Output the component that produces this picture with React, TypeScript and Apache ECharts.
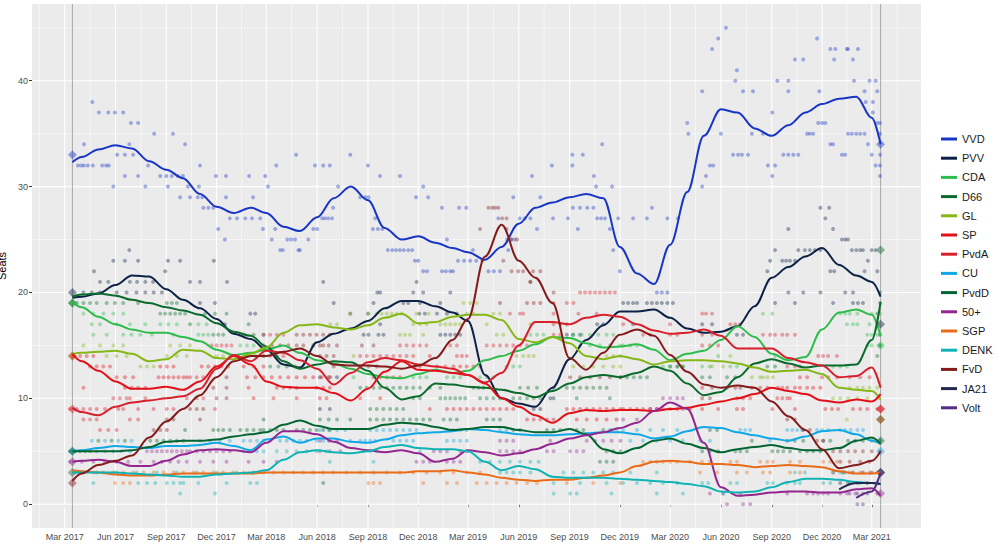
import React, { useEffect, useRef } from "react";
import * as echarts from "echarts";

// ---------- data ----------
const parties = ["VVD", "PVV", "CDA", "D66", "GL", "SP", "PvdA", "CU", "PvdD", "50+", "SGP", "DENK", "FvD", "JA21", "Volt"];
const partyColors = ["#1836c6", "#0e2246", "#2ebd4c", "#0b6b2c", "#85b816", "#e31018", "#d81f2c", "#10a8e6", "#036632", "#93278f", "#ea6b18", "#10b3b3", "#841a1a", "#23294f", "#582c83"];

const election2017 = "2017-03-15";
const election2021 = "2021-03-17";
const result2017 = [33, 20, 19, 19, 14, 14, 9, 5, 5, 4, 3, 3, 2, null, null];
const result2021 = [34, 17, 15, 24, 8, 9, 9, 5, 6, 1, 3, 3, 8, 3, 3];

const tickMonths = ["2017-03-01", "2017-06-01", "2017-09-01", "2017-12-01", "2018-03-01", "2018-06-01", "2018-09-01", "2018-12-01", "2019-03-01", "2019-06-01", "2019-09-01", "2019-12-01", "2020-03-01", "2020-06-01", "2020-09-01", "2020-12-01", "2021-03-01"];
const seatTicks = [0, 10, 20, 30, 40];
const seatMinor = [5, 15, 25, 35, 45];

// dates of the smoothed trend values
const lineDates = [
  "2017-03-15", "2017-04-01", "2017-05-01", "2017-06-01", "2017-07-01", "2017-08-01", "2017-09-01", "2017-10-01", "2017-11-01", "2017-12-01",
  "2018-01-01", "2018-02-01", "2018-03-01", "2018-04-01", "2018-05-01", "2018-06-01", "2018-07-01", "2018-08-01", "2018-09-01", "2018-10-01", "2018-11-01", "2018-12-01",
  "2019-01-01", "2019-02-01", "2019-03-01", "2019-04-01", "2019-05-01", "2019-06-01", "2019-07-01", "2019-08-01", "2019-09-01", "2019-10-01", "2019-11-01", "2019-12-01",
  "2020-01-01", "2020-02-01", "2020-03-01", "2020-04-01", "2020-05-01", "2020-06-01", "2020-07-01", "2020-08-01", "2020-09-01", "2020-10-01", "2020-11-01", "2020-12-01",
  "2021-01-01", "2021-02-01", "2021-03-01", "2021-03-17",
];

const trendVVD = [32.3, 32.8, 33.5, 33.9, 33.6, 32.4, 31.6, 30.8, 29.3, 28.1, 27.5, 28.0, 27.5, 26.2, 25.8, 27.1, 28.9, 30.0, 28.7, 26.1, 25.0, 25.3, 24.7, 24.2, 23.8, 23.1, 24.3, 26.5, 28.0, 28.5, 29.0, 29.3, 28.9, 24.3, 21.8, 20.8, 24.5, 29.5, 34.8, 37.3, 37.0, 35.5, 34.8, 35.8, 37.0, 37.8, 38.3, 38.5, 36.5, 34.0];
const trendPVV = [19.5, 19.6, 19.9, 20.7, 21.6, 21.5, 20.3, 19.3, 18.5, 17.5, 16.1, 15.6, 14.6, 13.2, 12.9, 15.3, 16.1, 16.6, 17.3, 18.5, 19.2, 19.2, 18.7, 18.1, 17.3, 12.2, 10.0, 9.5, 9.2, 11.0, 13.7, 15.5, 16.9, 18.2, 18.2, 18.4, 17.6, 16.6, 16.2, 16.3, 16.8, 18.7, 21.4, 22.4, 23.4, 24.2, 22.6, 21.6, 21.0, 19.6];
const trendCDA = [19.1, 18.6, 17.7, 17.0, 16.5, 16.2, 16.2, 15.8, 15.4, 14.6, 14.1, 14.3, 14.6, 15.0, 14.3, 13.6, 13.3, 12.8, 12.3, 12.0, 11.9, 12.3, 12.7, 12.4, 12.6, 13.6, 14.0, 14.5, 15.1, 15.8, 15.7, 15.2, 14.8, 14.9, 15.1, 14.6, 13.6, 14.2, 14.5, 15.5, 16.8, 15.8, 14.2, 13.6, 13.9, 16.5, 18.1, 18.4, 17.9, 15.9];
const trendD66 = [19.6, 19.8, 19.9, 19.7, 19.3, 19.0, 18.6, 18.3, 17.9, 17.1, 16.3, 15.9, 14.9, 13.5, 12.8, 13.2, 13.5, 13.4, 12.6, 11.0, 9.9, 10.2, 11.4, 11.3, 11.1, 11.0, 10.8, 10.5, 10.1, 10.7, 11.4, 12.0, 12.2, 12.0, 12.4, 13.0, 12.6, 11.4, 10.3, 10.6, 12.0, 13.3, 13.7, 13.3, 12.9, 13.1, 13.1, 13.2, 15.5, 19.1];
const trendGL = [14.2, 14.3, 14.4, 14.5, 14.2, 13.5, 13.7, 14.6, 14.5, 13.8, 13.7, 14.2, 14.8, 16.2, 16.9, 17.0, 16.7, 16.5, 16.9, 17.6, 18.0, 17.1, 17.2, 17.7, 17.9, 17.9, 17.4, 15.6, 15.3, 15.8, 15.2, 14.0, 13.7, 14.0, 13.7, 13.2, 13.5, 13.6, 13.6, 13.5, 13.3, 12.9, 12.5, 12.6, 12.7, 12.3, 11.0, 10.8, 10.7, 9.9];
const trendSP = [14.2, 13.5, 12.6, 11.6, 10.9, 10.9, 11.1, 10.8, 11.6, 13.0, 14.0, 13.2, 11.6, 11.1, 11.0, 11.0, 10.5, 9.8, 10.9, 12.5, 13.5, 12.7, 12.6, 12.4, 12.2, 11.4, 10.0, 9.2, 8.4, 7.7, 8.6, 8.9, 8.8, 8.9, 8.9, 8.8, 9.0, 9.1, 9.4, 9.7, 10.0, 10.4, 11.0, 10.7, 10.4, 9.8, 9.6, 9.9, 9.7, 10.4];
const trendPvdA = [9.1, 8.7, 8.4, 9.2, 9.6, 9.8, 10.0, 10.2, 10.9, 12.8, 14.1, 13.5, 14.5, 14.3, 13.6, 12.8, 11.3, 12.4, 13.4, 13.8, 13.6, 13.2, 13.0, 12.8, 12.2, 11.5, 12.4, 15.0, 17.2, 17.2, 17.0, 17.6, 17.9, 17.7, 17.0, 16.4, 16.1, 16.2, 16.5, 15.9, 14.7, 14.7, 14.7, 13.8, 13.4, 13.1, 12.0, 12.1, 12.9, 11.0];
const trendCU = [5.0, 5.1, 5.3, 5.5, 5.4, 5.3, 5.5, 5.5, 5.6, 5.8, 5.5, 5.1, 6.1, 6.4, 5.8, 6.2, 6.2, 5.9, 5.8, 6.1, 6.5, 6.7, 6.8, 6.9, 7.1, 7.0, 6.8, 6.6, 6.5, 6.5, 6.6, 6.7, 6.8, 6.8, 6.6, 6.2, 6.4, 6.9, 7.3, 7.2, 6.8, 6.5, 6.2, 6.0, 6.4, 6.9, 7.0, 6.6, 6.0, 5.7];
const trendPvdD = [5.0, 5.0, 5.0, 5.0, 5.1, 5.4, 5.9, 6.0, 6.0, 6.1, 6.4, 6.6, 6.8, 7.5, 7.9, 7.4, 7.1, 7.1, 7.1, 7.5, 7.7, 7.6, 7.3, 7.0, 7.1, 7.3, 7.3, 7.0, 6.8, 6.8, 7.1, 6.6, 5.2, 4.8, 5.3, 6.0, 6.2, 5.7, 5.3, 4.9, 5.2, 5.4, 5.6, 5.3, 5.1, 5.1, 5.3, 6.0, 6.3, 5.7];
const trend50plus = [4.0, 4.1, 4.2, 4.0, 3.6, 3.6, 4.1, 4.7, 5.1, 5.2, 5.1, 4.9, 5.8, 6.9, 6.9, 6.6, 5.9, 5.3, 5.1, 4.9, 5.1, 4.8, 4.0, 4.3, 5.1, 4.9, 4.6, 4.8, 5.2, 5.7, 6.2, 6.5, 6.8, 7.2, 7.7, 8.8, 9.6, 9.0, 5.8, 1.6, 0.8, 0.9, 1.1, 1.2, 1.2, 1.1, 1.1, 1.4, 1.5, 0.8];
const trendSGP = [3.2, 3.1, 3.0, 2.8, 2.7, 2.7, 2.8, 2.9, 2.9, 2.9, 2.9, 2.9, 3.0, 3.0, 3.0, 3.0, 3.0, 3.0, 3.0, 3.0, 3.0, 3.1, 3.1, 3.2, 3.0, 2.8, 2.5, 2.3, 2.2, 2.3, 2.3, 2.5, 2.7, 3.0, 3.6, 4.0, 4.1, 4.0, 3.8, 3.8, 3.7, 3.5, 3.6, 3.7, 3.6, 3.5, 3.1, 2.9, 2.9, 3.0];
const trendDENK = [3.0, 3.0, 3.0, 3.0, 2.9, 2.8, 2.7, 2.6, 2.6, 2.8, 2.9, 3.0, 3.2, 4.2, 4.9, 5.1, 4.9, 4.8, 5.0, 5.4, 5.6, 5.3, 5.2, 5.2, 5.0, 4.0, 3.2, 3.6, 3.3, 2.6, 2.5, 2.5, 2.5, 2.4, 2.3, 2.2, 2.1, 1.9, 1.7, 1.2, 1.1, 1.2, 1.6, 2.1, 2.4, 2.4, 2.3, 2.1, 2.0, 1.9];
const trendFvD = [2.2, 2.9, 3.7, 4.1, 4.6, 6.3, 7.8, 9.0, 10.3, 12.0, 13.5, 14.0, 14.0, 14.4, 14.7, 14.0, 13.2, 13.1, 13.1, 13.0, 12.8, 13.1, 13.8, 15.5, 17.5, 23.4, 26.4, 23.0, 21.4, 19.0, 13.8, 12.7, 14.3, 16.0, 16.5, 15.9, 14.1, 12.5, 11.3, 11.0, 11.2, 11.0, 9.7, 8.3, 7.0, 5.2, 3.4, 3.7, 4.1, 5.0];
const trendJA21 = [null, null, null, null, null, null, null, null, null, null, null, null, null, null, null, null, null, null, null, null, null, null, null, null, null, null, null, null, null, null, null, null, null, null, null, null, null, null, null, null, null, null, null, null, null, null, 1.4, 2.0, 2.0, 1.9];
const trendVolt = [null, null, null, null, null, null, null, null, null, null, null, null, null, null, null, null, null, null, null, null, null, null, null, null, null, null, null, null, null, null, null, null, null, null, null, null, null, null, null, null, null, null, null, null, null, null, null, 0.6, 1.2, 3.0];
const trends = [trendVVD, trendPVV, trendCDA, trendD66, trendGL, trendSP, trendPvdA, trendCU, trendPvdD, trend50plus, trendSGP, trendDENK, trendFvD, trendJA21, trendVolt];

// individual polls: [day since 2017-01-01, seats]
const pollEpoch = "2017-01-01";
const pollsVVD = [
  [83, 32], [89, 32], [94, 32], [101, 32], [110, 32], [109, 38], [121, 37], [138, 37], [150, 37], [165, 37], [179, 36], [192, 36], [221, 35], [255, 35],
  [94, 34], [176, 34], [277, 34], [154, 33], [168, 33], [183, 33], [478, 33], [127, 32], [134, 32], [139, 32], [210, 32], [304, 32], [442, 32],
  [168, 31], [192, 31], [232, 31], [243, 31], [253, 31], [264, 31], [273, 31], [333, 31], [351, 31], [393, 31], [422, 31],
  [147, 30], [205, 30], [246, 30], [282, 30], [302, 30], [427, 30], [268, 29], [286, 29], [300, 29], [308, 29], [351, 29], [400, 29],
  [310, 28], [319, 28], [328, 28], [358, 27], [371, 27], [386, 27], [398, 27], [413, 27], [337, 26], [349, 25], [418, 26], [440, 26],
  [434, 25], [462, 25], [469, 25], [476, 25], [449, 24], [454, 24], [482, 24],
  [512, 32], [527, 32], [539, 32], [576, 33], [608, 32], [630, 31], [666, 31], [554, 30], [708, 30], [594, 29], [603, 29], [609, 29], [545, 28],
  [525, 27], [530, 27], [536, 27], [543, 27], [509, 26], [516, 26], [500, 25], [485, 24], [617, 26], [626, 26], [634, 26], [621, 27],
  [644, 24], [652, 24], [659, 24], [666, 24], [673, 24], [681, 24], [688, 24], [693, 23], [699, 23], [695, 29], [717, 29], [708, 22], [715, 22],
  [742, 28], [773, 28], [786, 28], [751, 25], [742, 22], [749, 22], [757, 22], [762, 22], [771, 23], [782, 23], [793, 23], [804, 23], [815, 23],
  [798, 24], [826, 22], [836, 22], [847, 22], [844, 27], [871, 29], [862, 24], [860, 25], [867, 25], [874, 25], [883, 27], [892, 27], [902, 27],
  [905, 31], [920, 29], [914, 26], [941, 32], [943, 27], [970, 27], [978, 33], [978, 32], [997, 33], [988, 26], [979, 28], [992, 28], [1005, 28],
  [1016, 28], [1032, 34], [1017, 31], [1021, 30], [1050, 30], [1023, 27], [1030, 27], [1037, 27], [1061, 27], [1046, 26], [1052, 24], [1064, 22],
  [1088, 27], [1113, 27], [1122, 28], [1150, 27], [1169, 27], [1131, 20], [1140, 20], [1150, 20],
  [1186, 36], [1188, 35], [1213, 39], [1213, 30], [1220, 31], [1227, 32], [1233, 32], [1231, 43], [1242, 44], [1256, 45], [1247, 35], [1273, 40],
  [1276, 41], [1269, 33], [1278, 33], [1285, 33], [1296, 33], [1287, 39], [1305, 39], [1303, 35], [1323, 35], [1332, 32], [1345, 32], [1340, 31],
  [1340, 37], [1349, 40], [1360, 33], [1369, 33], [1378, 33], [1387, 33], [1369, 40], [1369, 39], [1381, 42], [1396, 42], [1403, 35], [1408, 35],
  [1414, 35], [1421, 44], [1425, 39], [1423, 36], [1430, 36], [1436, 36], [1445, 43], [1454, 43], [1452, 42], [1445, 34], [1450, 34], [1466, 33],
  [1472, 33], [1475, 43], [1477, 43], [1486, 42], [1495, 43], [1477, 35], [1484, 35], [1492, 35], [1499, 35], [1507, 35], [1488, 40], [1507, 39],
  [1509, 38], [1516, 40], [1513, 34], [1522, 38], [1522, 37], [1527, 40], [1530, 39], [1530, 36], [1535, 36], [1520, 33], [1527, 32], [1535, 35],
  [1535, 33], [1535, 32], [1535, 31],
];
const pollsPVV = [
  [112, 22], [241, 22], [123, 21], [138, 21], [177, 21], [190, 21], [205, 21], [219, 21], [286, 21], [304, 21], [353, 21], [147, 23], [168, 23],
  [192, 23], [246, 23], [268, 23], [329, 23], [176, 24], [93, 20], [108, 20], [123, 20], [153, 20], [171, 20], [189, 20], [205, 20], [220, 20],
  [235, 20], [304, 19], [331, 19], [395, 18], [404, 18], [349, 17], [696, 21], [757, 20], [546, 19], [618, 19], [672, 19], [681, 19], [702, 19],
  [739, 19], [630, 17], [600, 16], [609, 16], [627, 16], [636, 16], [739, 16], [748, 16], [757, 16], [766, 16], [775, 16], [521, 12], [537, 12],
  [552, 12], [938, 10], [944, 10], [908, 9], [920, 9], [521, 9], [539, 9],
  [527, 21], [625, 20], [630, 20], [690, 20], [708, 20], [576, 18], [608, 18], [701, 18], [711, 18], [733, 18], [751, 18], [769, 18],
  [1070, 19], [1079, 19], [1088, 19], [1095, 19], [1113, 19], [1122, 19], [1131, 19], [1140, 19], [1150, 19], [1160, 19], [1023, 17], [1034, 17],
  [1088, 17], [968, 16], [979, 16], [992, 16], [1276, 16], [1287, 16], [1213, 17], [1231, 17],
  [1427, 28], [1443, 28], [1436, 27], [1369, 26], [1450, 26], [1466, 25], [1472, 25], [1477, 25], [1345, 24], [1387, 24], [1399, 24], [1408, 24],
  [1417, 24], [1427, 24], [1484, 24], [1492, 24], [1499, 24], [1504, 24], [1520, 24], [1527, 24], [1336, 23], [1358, 23], [1365, 23], [1372, 23],
  [1381, 23], [1513, 23], [1331, 22], [1445, 22], [1452, 22], [1507, 22], [1530, 22], [1369, 20], [1396, 20], [1427, 20], [1472, 20], [1486, 20],
  [1345, 19], [1381, 19], [1450, 19], [1486, 19], [1495, 19], [1504, 19],
];
const pollsCDA = [
  [93, 18], [111, 18], [129, 18], [147, 18], [165, 18], [108, 17], [123, 17], [153, 17], [177, 17], [205, 17], [232, 17], [247, 17], [262, 17],
  [301, 17], [316, 17], [111, 16], [135, 16], [165, 16], [180, 16], [196, 16], [217, 16], [256, 16], [301, 16], [310, 16], [319, 16], [377, 15],
  [389, 15], [401, 15], [413, 15], [389, 14], [404, 14], [419, 14], [582, 12], [690, 12], [702, 12], [714, 12], [751, 12], [763, 12], [775, 12],
  [811, 12], [823, 12], [835, 12], [859, 13], [871, 13], [883, 13], [902, 16], [914, 16], [926, 16], [980, 16], [995, 16], [1010, 16], [1025, 16],
  [1040, 16], [1052, 16], [992, 15], [1010, 15], [1028, 15], [1046, 15], [1065, 15], [1070, 15], [1083, 15], [1095, 15], [1142, 13], [1155, 13],
  [1168, 13], [1178, 13], [1213, 13], [1227, 13], [1264, 13], [1276, 13], [1242, 14], [1345, 14], [1323, 18], [1340, 18], [1463, 18], [1472, 18],
  [1480, 18], [1494, 18], [1520, 18], [1535, 18], [1475, 17], [1486, 17], [1494, 17], [1516, 17], [1530, 17], [1512, 16], [1520, 16], [1530, 16],
  [1512, 15], [1520, 15], [1535, 15], [1450, 13], [1463, 13], [1475, 13],
];
const pollsD66 = [
  [81, 19], [93, 19], [105, 19], [117, 19], [135, 19], [150, 19], [165, 19], [192, 19], [244, 19], [253, 19], [262, 19], [232, 18], [241, 18],
  [250, 18], [259, 18], [268, 18], [277, 18], [313, 18], [331, 18], [352, 18], [286, 17], [392, 17], [328, 16], [337, 16], [346, 16], [383, 16],
  [401, 16], [419, 16], [431, 13], [446, 13], [461, 13], [476, 13], [594, 11], [606, 11], [618, 11], [630, 11], [642, 11], [654, 11], [666, 11],
  [678, 11], [690, 11], [702, 11], [720, 11], [739, 11], [799, 11], [808, 11], [817, 11], [883, 11], [898, 11], [914, 11], [944, 11], [968, 11],
  [980, 11], [992, 11], [1004, 11], [1016, 11], [1028, 11], [1040, 11], [690, 10], [702, 10], [739, 10], [748, 10], [757, 10], [766, 10],
  [775, 10], [784, 10], [811, 10], [823, 10], [835, 10], [847, 10], [871, 10], [883, 10], [896, 10], [908, 10], [920, 10], [986, 10], [1046, 10],
  [612, 9], [624, 9], [636, 9], [648, 9], [660, 9], [672, 9], [1065, 12], [1077, 12], [1089, 12], [1101, 12], [1113, 12], [1155, 13], [1168, 13],
  [1178, 13], [1213, 12], [1227, 12], [1258, 12], [1273, 12], [1331, 13], [1345, 13], [1530, 14], [1535, 15], [1535, 16], [1530, 18], [1535, 19],
  [1535, 20],
];
const pollsGL = [
  [93, 15], [123, 15], [147, 15], [165, 15], [250, 15], [268, 15], [286, 15], [135, 14], [153, 14], [171, 14], [244, 14], [262, 14], [280, 14],
  [334, 14], [346, 14], [358, 14], [370, 14], [196, 13], [208, 13], [220, 13], [576, 18], [609, 18], [624, 18], [633, 18], [642, 18], [651, 18],
  [660, 18], [669, 18], [696, 18], [718, 18], [787, 18], [799, 18], [835, 18], [847, 18], [540, 17], [552, 17], [690, 17], [702, 17], [714, 17],
  [739, 17], [748, 17], [757, 17], [766, 17], [775, 17], [823, 17], [902, 17], [666, 16], [675, 16], [684, 16], [708, 16], [841, 16], [853, 16],
  [582, 14], [877, 14], [889, 14], [899, 14], [908, 14], [1040, 14], [1052, 14], [1065, 14], [781, 19], [793, 19], [805, 19], [980, 13],
  [998, 13], [1016, 13], [1034, 13], [1052, 13], [1065, 13], [1231, 13], [1251, 13], [1264, 14], [1303, 12], [1318, 12], [1323, 12], [1331, 12],
  [1341, 12], [1480, 11], [1494, 11], [1504, 11], [1516, 11], [1530, 11], [1450, 10], [1463, 10], [1477, 10], [1494, 10], [1512, 10], [1530, 10],
  [1475, 8],
];
const pollsSP = [
  [75, 14], [87, 14], [99, 14], [111, 14], [105, 13], [117, 13], [129, 13], [141, 13], [232, 13], [244, 13], [256, 13], [307, 13], [319, 13],
  [331, 13], [343, 13], [355, 13], [383, 13], [401, 13], [419, 13], [153, 12], [168, 12], [183, 12], [229, 12], [238, 12], [247, 12], [256, 12],
  [265, 12], [274, 12], [280, 12], [389, 12], [404, 12], [419, 12], [434, 12], [449, 12], [464, 12], [479, 12], [494, 12], [509, 12], [524, 12],
  [540, 12], [93, 11], [168, 11], [180, 11], [192, 11], [205, 11], [392, 11], [443, 11], [455, 11], [467, 11], [479, 11], [515, 11], [527, 11],
  [539, 11], [401, 10], [437, 10], [479, 10], [521, 10], [533, 10], [594, 10], [630, 10], [618, 12], [630, 12], [642, 12], [654, 12], [666, 12],
  [720, 14], [684, 13], [693, 13], [702, 13], [733, 13], [748, 13], [763, 13], [775, 13], [787, 13], [799, 13], [811, 13], [720, 9], [751, 9],
  [763, 9], [775, 9], [787, 9], [799, 9], [811, 9], [823, 9], [835, 9], [847, 9], [859, 9], [871, 9], [896, 8], [908, 8], [920, 8], [932, 8],
  [944, 8], [986, 8], [1004, 8], [1022, 8], [1040, 8], [1058, 8], [968, 9], [980, 9], [992, 9], [1004, 9], [1016, 9], [1028, 9], [1040, 9],
  [1052, 9], [1065, 9], [1070, 9], [1083, 9], [1095, 9], [1106, 9], [1119, 9], [1131, 9], [1142, 9], [1155, 9], [1168, 9], [1178, 9], [1191, 9],
  [1213, 11], [1303, 11], [1318, 11], [1331, 11], [1350, 11], [1358, 11], [1367, 11], [1381, 11], [1390, 11], [1403, 11], [1414, 11], [1427, 11],
  [1276, 10], [1287, 10], [1300, 10], [1349, 10], [1358, 10], [1367, 10], [1372, 10], [1213, 9], [1242, 9], [1276, 9], [1287, 9], [1340, 9],
  [1381, 9], [1436, 9], [1448, 9], [1459, 9], [1486, 9], [1499, 9], [1512, 9], [1530, 9], [1390, 12], [1403, 12],
];
const pollsPvdA = [
  [69, 9], [81, 9], [93, 9], [105, 9], [117, 9], [132, 9], [156, 9], [165, 9], [192, 9], [220, 9], [244, 9], [256, 9], [331, 9], [93, 8],
  [105, 8], [117, 8], [177, 8], [192, 8], [123, 7], [138, 7], [153, 7], [147, 10], [159, 10], [171, 10], [177, 10], [205, 10], [280, 10],
  [298, 10], [310, 10], [286, 12], [298, 12], [310, 12], [325, 15], [334, 15], [343, 15], [352, 15], [361, 15], [419, 16], [431, 16], [443, 16],
  [455, 16], [419, 14], [431, 14], [443, 14], [455, 14], [594, 14], [606, 14], [618, 14], [630, 14], [642, 14], [654, 14], [666, 14], [678, 14],
  [690, 14], [769, 14], [778, 14], [787, 14], [666, 15], [678, 15], [690, 15], [702, 15], [714, 15], [757, 15], [769, 15], [823, 15], [835, 15],
  [847, 15], [859, 15], [871, 15], [883, 15], [896, 15], [865, 18], [883, 18], [889, 18], [944, 18], [989, 18], [1022, 18], [944, 17], [956, 17],
  [968, 17], [944, 16], [956, 16], [944, 19], [968, 19], [980, 19], [992, 20], [1001, 20], [1010, 20], [1019, 20], [1028, 20], [1037, 20],
  [1046, 20], [1055, 20], [1070, 17], [1155, 17], [1106, 16], [1119, 16], [1155, 16], [1168, 16], [1213, 18], [1220, 18], [1231, 18], [1264, 17],
  [1273, 17], [1282, 17], [1213, 16], [1231, 16], [1323, 16], [1336, 16], [1345, 16], [1358, 16], [1367, 16], [1381, 16], [1213, 15], [1227, 15],
  [1242, 15], [1423, 14], [1432, 14], [1441, 14], [1457, 14], [1367, 13], [1381, 13], [1390, 13], [1430, 12], [1441, 12], [1457, 12], [1480, 12],
  [1499, 12], [1516, 12],
];
const pollsCU = [
  [108, 6], [132, 6], [156, 6], [180, 6], [117, 5], [132, 5], [147, 5], [162, 5], [177, 5], [304, 6], [322, 6], [340, 6], [358, 6], [383, 6],
  [395, 6], [407, 6], [419, 6], [431, 6], [449, 6], [461, 6], [473, 6], [485, 6], [497, 6], [515, 6], [527, 6], [539, 6], [383, 5], [395, 5],
  [407, 5], [419, 5], [521, 7], [537, 7], [552, 7], [567, 7], [612, 7], [624, 7], [636, 7], [648, 7], [660, 7], [672, 7], [684, 7], [696, 7],
  [751, 7], [763, 7], [775, 7], [787, 7], [847, 7], [859, 7], [576, 6], [594, 6], [603, 6], [612, 6], [621, 6], [654, 6], [666, 6], [678, 6],
  [690, 6], [751, 6], [763, 6], [775, 6], [787, 6], [1046, 7], [1058, 7], [1070, 7], [1095, 7], [1119, 7], [1142, 7], [1168, 7], [1083, 6],
  [1106, 6], [1131, 6], [1155, 6], [1178, 6], [1282, 7], [1291, 7], [1300, 7], [1367, 7], [1376, 7], [1385, 7], [1394, 7], [1421, 7], [1430, 7],
  [1441, 7], [1463, 7], [1472, 7], [1482, 7], [1494, 7], [1504, 7], [1209, 6], [1227, 6], [1336, 6],
];
const pollsPvdD = [
  [69, 5], [78, 5], [87, 5], [96, 5], [105, 5], [120, 6], [144, 6], [168, 6], [214, 6], [226, 6], [238, 6], [250, 6], [262, 6], [274, 6],
  [277, 7], [328, 7], [337, 7], [346, 7], [358, 7], [377, 7], [389, 7], [401, 7], [413, 7], [419, 7], [431, 7], [443, 7], [455, 7], [479, 7],
  [491, 7], [503, 7], [515, 7], [527, 7], [539, 7], [419, 8], [521, 8], [537, 8], [552, 8], [576, 8], [612, 8], [624, 8], [636, 8], [648, 8],
  [660, 8], [672, 8], [684, 8], [696, 8], [708, 8], [720, 8], [745, 8], [757, 8], [769, 8], [823, 8], [835, 8], [847, 8], [871, 7], [883, 7],
  [932, 7], [944, 7], [956, 7], [986, 7], [998, 7], [1034, 7], [1049, 7], [1040, 5], [1052, 5], [1065, 5], [1028, 4], [1040, 4], [1052, 4],
  [1303, 6], [1367, 6], [1381, 6], [1396, 6], [1432, 6], [1445, 6], [1477, 6], [1490, 6], [1504, 6], [1520, 6], [1535, 6], [1213, 5], [1227, 5],
  [1242, 5], [1273, 5], [1282, 5], [1294, 5], [1340, 5], [1350, 5], [1360, 5], [1372, 5], [1390, 5], [1403, 5], [1414, 5], [1427, 5], [1227, 7],
  [1240, 7],
];
const polls50plus = [
  [69, 4], [90, 4], [111, 4], [132, 4], [153, 4], [174, 4], [196, 4], [220, 4], [235, 4], [250, 4], [265, 4], [280, 4], [304, 4], [328, 4],
  [352, 4], [392, 4], [419, 4], [443, 4], [208, 5], [217, 5], [226, 5], [235, 5], [244, 5], [253, 5], [262, 5], [271, 5], [280, 5], [286, 5],
  [298, 5], [310, 5], [322, 5], [334, 5], [346, 5], [358, 5], [521, 6], [537, 6], [552, 6], [521, 5], [539, 5], [558, 5], [696, 4], [708, 4],
  [720, 4], [727, 5], [739, 5], [751, 5], [775, 5], [787, 5], [751, 4], [763, 4], [775, 4], [847, 6], [859, 6], [871, 6], [938, 6], [847, 5],
  [859, 5], [871, 5], [883, 5], [932, 5], [944, 5], [974, 5], [986, 5], [998, 5], [1004, 6], [1019, 6], [1034, 6], [1049, 6], [1065, 6],
  [1070, 8], [1095, 8], [1119, 9], [1131, 9], [1142, 10], [1155, 10], [1168, 10], [1178, 10], [1227, 1], [1251, 1], [1282, 1], [1367, 1],
  [1403, 1], [1414, 1], [1423, 1], [1432, 1], [1441, 1], [1463, 1], [1475, 1], [1490, 1], [1504, 1], [1258, 0], [1287, 0], [1300, 0],
];
const pollsSGP = [
  [75, 3], [93, 3], [111, 3], [129, 3], [147, 3], [165, 3], [183, 3], [202, 3], [220, 3], [238, 3], [256, 3], [274, 3], [292, 3], [310, 3],
  [328, 3], [346, 3], [364, 3], [383, 3], [401, 3], [419, 3], [437, 3], [455, 3], [473, 3], [491, 3], [509, 3], [527, 3], [150, 2], [165, 2],
  [177, 2], [527, 2], [545, 3], [569, 3], [594, 3], [618, 3], [642, 3], [666, 3], [690, 3], [714, 3], [739, 3], [763, 3], [787, 3], [811, 3],
  [609, 2], [618, 2], [630, 2], [708, 2], [751, 2], [769, 2], [805, 2], [823, 2], [841, 2], [859, 2], [877, 2], [896, 2], [914, 2], [968, 2],
  [1016, 2], [1065, 2], [1106, 4], [1119, 4], [1131, 4], [1142, 4], [1155, 4], [1168, 4], [1191, 4], [1213, 4], [1227, 4], [1264, 4], [1276, 4],
  [1318, 4], [1331, 4], [1341, 4], [1372, 4], [1390, 4], [1432, 4], [1445, 4], [1457, 4], [1209, 3], [1240, 3], [1276, 3], [1294, 3], [1323, 3],
  [1336, 3], [1372, 3], [1390, 3], [1480, 3], [1499, 3], [1516, 3], [1530, 3],
];
const pollsDENK = [
  [81, 3], [117, 3], [153, 3], [189, 3], [226, 3], [262, 3], [298, 3], [334, 3], [370, 3], [111, 2], [192, 2], [208, 2], [223, 2], [244, 2],
  [256, 2], [268, 2], [274, 2], [301, 2], [352, 2], [395, 2], [407, 2], [268, 1], [331, 1], [443, 5], [461, 5], [479, 5], [497, 5], [515, 5],
  [533, 5], [600, 5], [612, 5], [624, 5], [702, 5], [539, 4], [618, 4], [811, 4], [829, 4], [847, 4], [865, 4], [883, 4], [902, 4], [917, 4],
  [847, 3], [859, 3], [871, 3], [883, 3], [902, 3], [962, 3], [980, 3], [998, 3], [1016, 3], [1034, 3], [1052, 3], [527, 2], [944, 2], [992, 2],
  [1040, 2], [944, 1], [974, 1], [986, 1], [1049, 1], [1070, 2], [1095, 2], [1119, 2], [1142, 2], [1168, 2], [1083, 3], [1131, 3], [1131, 1],
  [1178, 1], [1213, 2], [1224, 2], [1264, 2], [1276, 2], [1331, 2], [1341, 2], [1367, 2], [1381, 2], [1390, 2], [1432, 2], [1445, 2], [1480, 2],
  [1499, 2], [1381, 3], [1399, 3], [1463, 3], [1472, 3], [1251, 1],
];
const pollsFvD = [
  [479, 16], [491, 16], [503, 16], [515, 16], [527, 16], [539, 16], [419, 15], [434, 15], [449, 15], [464, 15], [479, 15], [491, 15], [509, 15],
  [527, 15], [352, 12], [328, 11], [352, 11], [334, 10], [352, 10], [286, 9], [298, 9], [310, 9], [244, 8], [256, 8], [304, 8], [220, 7],
  [232, 7], [244, 7], [521, 15], [537, 15], [552, 15], [597, 15], [618, 15], [521, 14], [533, 14], [546, 14], [546, 13], [594, 13], [609, 13],
  [624, 13], [974, 12], [992, 12], [1010, 12], [1028, 12], [1046, 12], [1065, 12], [847, 19], [896, 19], [908, 19], [920, 19], [902, 21],
  [944, 20], [826, 28], [833, 28], [838, 28], [844, 28], [851, 27], [859, 27], [811, 26], [859, 26], [868, 25], [878, 25], [853, 23], [868, 22],
  [880, 22], [889, 22], [902, 21], [907, 22], [920, 22], [1231, 11], [1213, 10], [1227, 10], [1258, 11], [1273, 11], [1282, 11], [1367, 8],
  [1381, 8], [1396, 7], [1408, 7], [1421, 6], [1432, 6], [1450, 5], [1463, 5], [1477, 5], [1490, 5], [1504, 5], [1520, 5], [1535, 5], [1463, 4],
  [1480, 4], [1499, 4], [1516, 4],
];
const pollsJA21 = [[1450, 3], [1468, 3], [1486, 3], [1504, 3], [1520, 3], [1463, 2], [1477, 2], [1494, 2], [1512, 2], [1530, 2]];
const pollsVolt = [[1480, 1], [1494, 1], [1512, 1], [1530, 1], [1494, 0], [1504, 0]];
const pollSets: Record<string, number[][]> = {
  VVD: pollsVVD, PVV: pollsPVV, CDA: pollsCDA, D66: pollsD66, GL: pollsGL, SP: pollsSP, PvdA: pollsPvdA, CU: pollsCU,
  PvdD: pollsPvdD, "50+": polls50plus, SGP: pollsSGP, DENK: pollsDENK, FvD: pollsFvD, JA21: pollsJA21, Volt: pollsVolt,
};

const MONTHS = ["Jan", "Feb", "Mar", "Apr", "May", "Jun", "Jul", "Aug", "Sep", "Oct", "Nov", "Dec"];

function buildOption() {
  const t1 = Date.parse(election2017);
  const t2 = Date.parse(election2021);
  const span = t2 - t1;
  const xMin = t1 - 0.05 * span;
  const xMax = t2 + 0.05 * span;
  const yMin = -2.25;
  const yMax = 47.25;
  const DAY = 86400000;
  const epoch = Date.parse(pollEpoch);
  const lineTimes = lineDates.map((d) => Date.parse(d));
  const majors = tickMonths.map((d) => Date.parse(d));
  const minors: number[] = [];
  for (let i = 0; i < majors.length - 1; i++) minors.push((majors[i] + majors[i + 1]) / 2);
  minors.push(majors[0] - (majors[1] - majors[0]) / 2);
  minors.push(majors[majors.length - 1] + (majors[1] - majors[0]) / 2);
  const minorsIn = minors.filter((t) => t > xMin && t < xMax);

  // grid lines: [kind (0 = horizontal, 1 = vertical, 2 = election), value, width]
  const gridItems: number[][] = [];
  seatMinor.forEach((v) => gridItems.push([0, v, 0.55]));
  minorsIn.forEach((t) => gridItems.push([1, t, 0.55]));
  seatTicks.forEach((v) => gridItems.push([0, v, 1.1]));
  majors.forEach((t) => gridItems.push([1, t, 1.1]));
  gridItems.push([2, t1, 1]);
  gridItems.push([2, t2, 1]);

  const series: any[] = [];

  parties.forEach((p, i) => {
    const data = trends[i]
      .map((v, k) => (v == null ? null : [lineTimes[k], v]))
      .filter((x) => x != null);
    series.push({
      type: "line",
      name: p,
      z: 4,
      data,
      smooth: 0.35,
      smoothMonotone: "x",
      showSymbol: false,
      symbol: "none",
      silent: true,
      lineStyle: { color: partyColors[i], width: 2 },
      itemStyle: { color: partyColors[i] },
    });
  });

  series.push({
    type: "custom",
    name: "__grid",
    z: 1,
    silent: true,
    clip: false,
    data: gridItems,
    renderItem: (_params: any, api: any) => {
      const kind = api.value(0);
      const v = api.value(1);
      const w = api.value(2);
      const a = kind === 0 ? api.coord([xMin, v]) : api.coord([v, yMax]);
      const b = kind === 0 ? api.coord([xMax, v]) : api.coord([v, yMin]);
      return {
        type: "line",
        shape: { x1: a[0], y1: a[1], x2: b[0], y2: b[1] },
        style: { stroke: kind === 2 ? "#a9a9a9" : "#ffffff", lineWidth: w },
      };
    },
  });

  parties.forEach((p, i) => {
    const polls = pollSets[p];
    if (!polls) return;
    series.push({
      type: "scatter",
      name: p,
      z: 2,
      symbolSize: 4,
      silent: true,
      itemStyle: { color: partyColors[i], opacity: 0.38 },
      data: polls.map(([d, v]) => [epoch + d * DAY, v]),
    });
  });

  parties.forEach((p, i) => {
    const pts: number[][] = [];
    if (result2017[i] != null) pts.push([t1, result2017[i] as number]);
    if (result2021[i] != null) pts.push([t2, result2021[i] as number]);
    series.push({
      type: "scatter",
      name: p,
      z: 3,
      symbol: "diamond",
      symbolSize: 9,
      silent: true,
      itemStyle: { color: partyColors[i], opacity: 0.45 },
      data: pts,
    });
  });

  const font = "'Liberation Sans', Arial, sans-serif";
  return {
    animation: false,
    backgroundColor: "#ffffff",
    grid: { left: 32, right: 79, top: 4, bottom: 28, show: true, backgroundColor: "#ebebeb", borderWidth: 0, outerBoundsMode: "none" },
    legend: {
      orient: "vertical",
      left: 936,
      top: 127,
      itemWidth: 16,
      itemHeight: 3,
      itemGap: 5.2,
      selectedMode: false,
      textStyle: { fontSize: 11, color: "#1a1a1a", fontFamily: font, lineHeight: 14 },
      data: parties.map((p, i) => ({ name: p, icon: "rect", itemStyle: { color: partyColors[i], opacity: 1 } })),
    },
    xAxis: {
      type: "value",
      min: xMin,
      max: xMax,
      axisLine: { show: false },
      splitLine: { show: false },
      axisTick: { show: true, customValues: majors, length: 3, lineStyle: { color: "#333333" } },
      axisLabel: {
        customValues: majors,
        fontSize: 9,
        color: "#4d4d4d",
        fontFamily: font,
        margin: 4,
        formatter: (v: number) => {
          const d = new Date(v);
          return MONTHS[d.getUTCMonth()] + " " + d.getUTCFullYear();
        },
      },
    },
    yAxis: {
      type: "value",
      min: yMin,
      max: yMax,
      name: "Seats",
      nameLocation: "middle",
      nameGap: 6,
      nameTextStyle: { fontSize: 11, color: "#000000", fontFamily: font },
      axisLine: { show: false },
      splitLine: { show: false },
      axisTick: { show: true, customValues: seatTicks, length: 3, lineStyle: { color: "#333333" } },
      axisLabel: { customValues: seatTicks, fontSize: 9, color: "#4d4d4d", fontFamily: font, margin: 4 },
    },
    series,
  };
}

export default function App() {
  const ref = useRef<HTMLDivElement>(null);
  useEffect(() => {
    if (!ref.current) return;
    const chart = echarts.init(ref.current, null, { renderer: "svg" });
    chart.setOption(buildOption() as any);
    return () => chart.dispose();
  }, []);
  return <div ref={ref} style={{ width: 1000, height: 556, position: "absolute", left: 0, top: 0 }} />;
}
